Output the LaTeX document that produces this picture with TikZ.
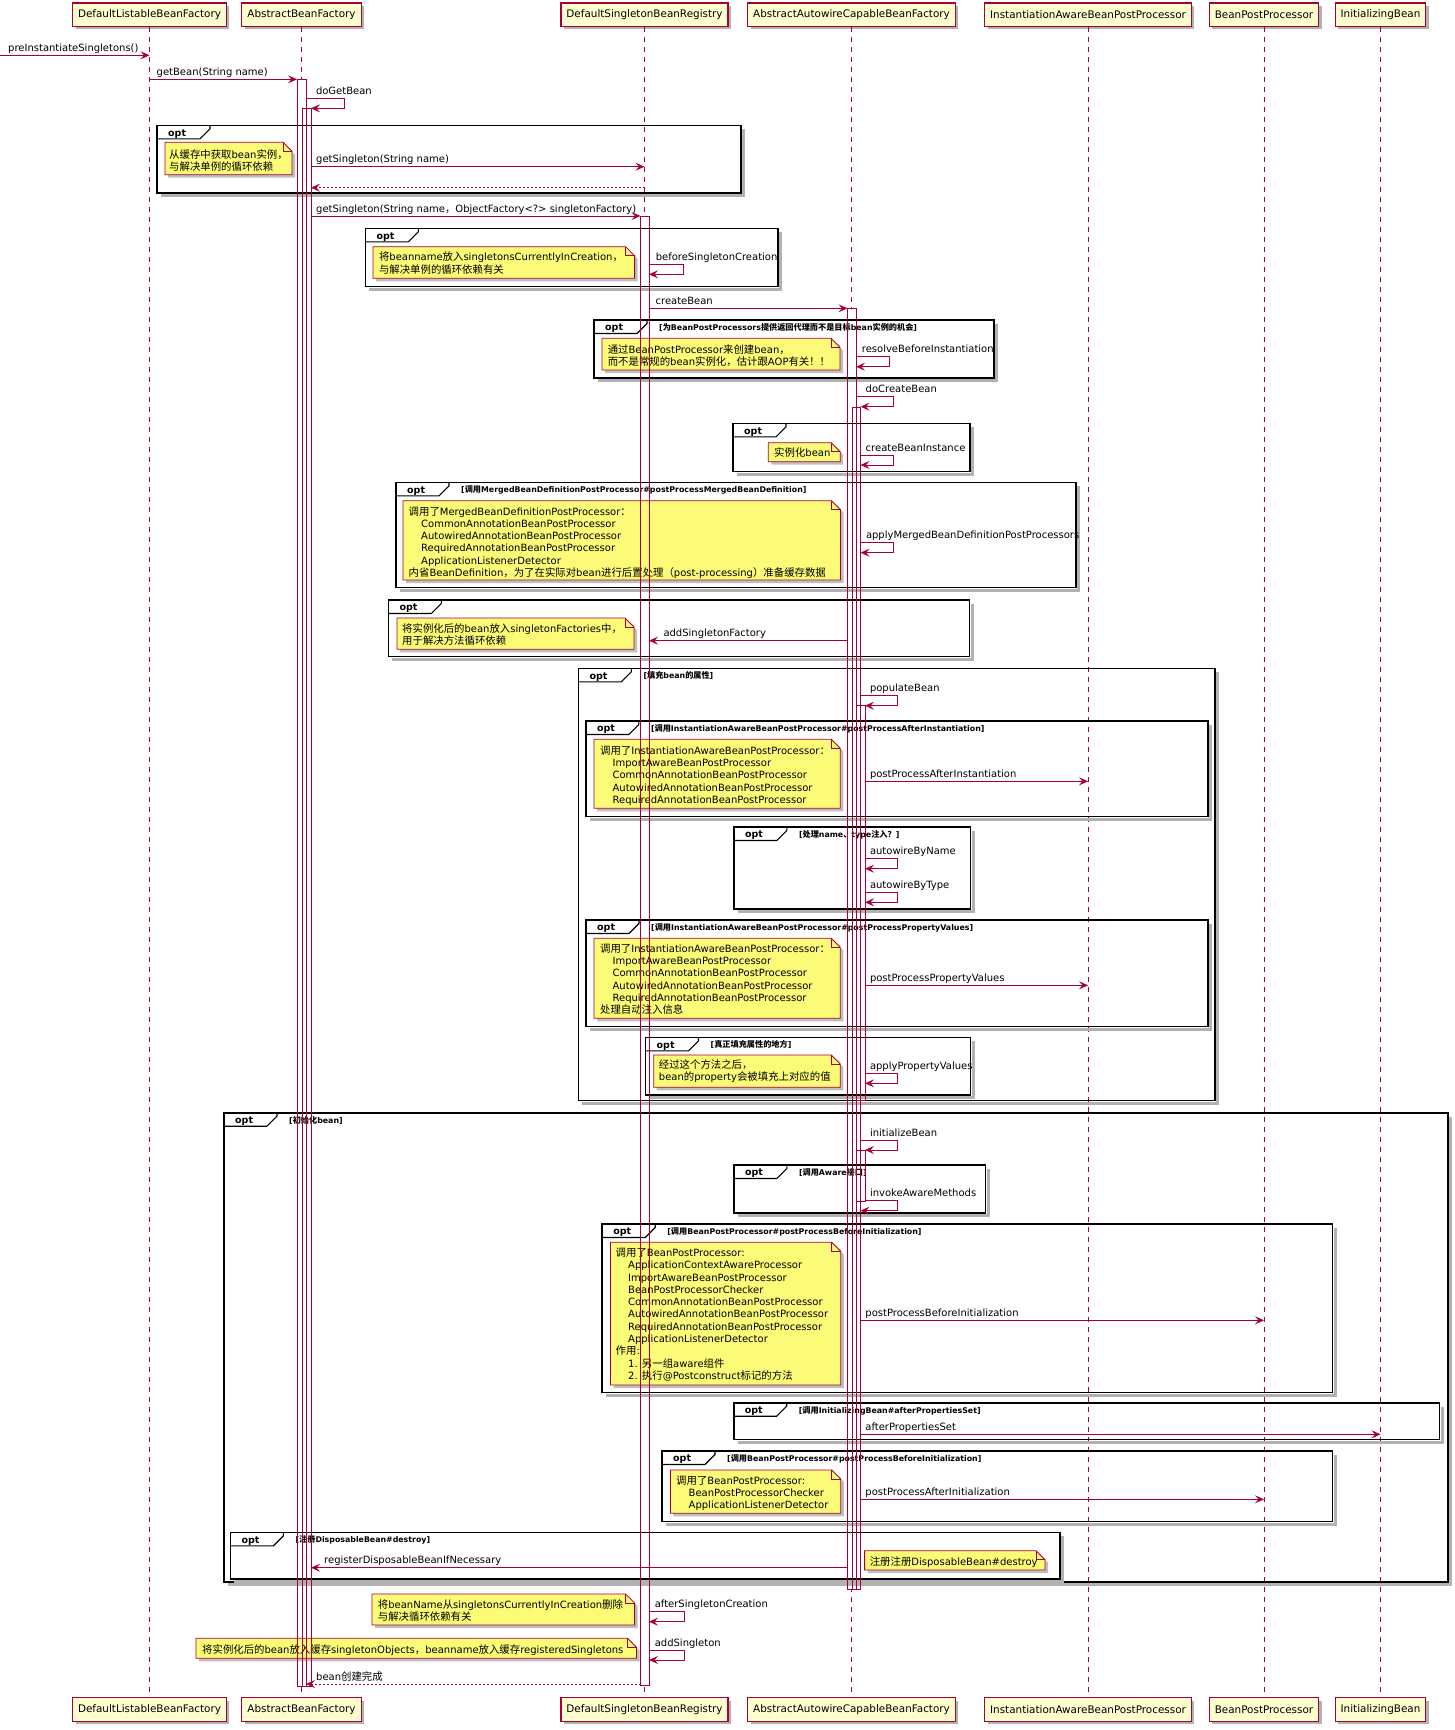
\documentclass[tikz,border=0pt]{standalone}
\usepackage{fontspec}
\setmainfont{DejaVu Sans}
\newfontfamily\cjk{Noto Sans CJK SC}[Scale=1.04]
\usetikzlibrary{arrows.meta,shadows}
\definecolor{pr}{HTML}{A80036}
\definecolor{pbg}{HTML}{FEFECE}
\definecolor{nbg}{HTML}{FBFB77}
\newcommand\zh[1]{{\cjk #1}}
\newcommand\ind{\hspace*{12.5pt}}
\newcommand\lns[1]{\begin{tabular}[t]{@{}l@{}}#1\end{tabular}}
\tikzset{
 part/.style={draw=pr, line width=1.1pt, fill=pbg, minimum height=23.5pt, inner xsep=5.5pt, inner ysep=0pt,
   font=\fontsize{10.4}{12.25}\selectfont, drop shadow={shadow xshift=3pt, shadow yshift=-3pt, fill=black, opacity=0.3}},
 life/.style={draw=pr, line width=0.8pt, dash pattern=on 5pt off 5pt},
 actl/.style={draw=pr, line width=0.8pt},
 msg/.style={draw=pr, line width=0.9pt, -{Stealth[length=9pt,width=8pt,inset=3.5pt]}},
 ret/.style={msg, dash pattern=on 2pt off 2pt},
 lbl/.style={anchor=base west, inner sep=0pt, font=\fontsize{10}{12.25}\selectfont},
 frameline/.style={draw=black, line width=1.6pt},
 tabline/.style={draw=black, line width=1.1pt},
 fshadow/.style={draw=black!30, line width=3pt},
 optlbl/.style={anchor=base west, inner sep=0pt, font=\bfseries\fontsize{9.5}{11}\selectfont},
 guard/.style={anchor=base west, inner sep=0pt, font=\bfseries\fontsize{7.85}{9}\selectfont},
 notebody/.style={draw=pr, line width=0.8pt, fill=nbg},
 noteline/.style={draw=pr, line width=0.8pt},
 nshadow/.style={fill=black!25},
 ntext/.style={anchor=base west, inner sep=0pt, font=\fontsize{10}{12.25}\selectfont},
}
% name, x1, x2, y, labelx, label, style
\newcommand\hmsg[7]{%
 \coordinate (#1-s) at (#2,#4);
 \coordinate (#1-e) at (#3,#4);
 \draw[#7] (#1-s) -- (#1-e);
 \node[lbl] (#1-l) at (#5,#4-4) {#6};
}
% name, xstart, y, xout, xback, labelx, label
\newcommand\selfm[7]{%
 \coordinate (#1-a) at (#2,#3);
 \coordinate (#1-b) at (#4,#3);
 \coordinate (#1-c) at (#4,#3+10);
 \coordinate (#1-d) at (#5,#3+10);
 \draw[msg] (#1-a) -- (#1-b) -- (#1-c) -- (#1-d);
 \node[lbl] (#1-l) at (#6,#3-4) {#7};
}
% name x1 y1 x2 y2 guard
\newcommand\optframe[6]{%
 \draw[fshadow] (#2+4,#5+2.5) -- (#4+2.5,#5+2.5) -- (#4+2.5,#3+4);
 \draw[frameline] (#2,#3) rectangle (#4,#5);
 \draw[tabline] (#2,#3+13.5) -- (#2+43,#3+13.5) -- (#2+53,#3+3.5) -- (#2+53,#3);
 \node[optlbl] (#1-o) at (#2+11,#3+10.8) {opt};
 \node[guard] (#1-g) at (#2+65,#3+10.3) {#6};
}
% name x1 y1 x2 y2 textx baseline text
\newcommand\notebx[8]{%
 \fill[nshadow] (#2+3,#3+3) -- (#4-6,#3+3) -- (#4+3,#3+12) -- (#4+3,#5+3) -- (#2+3,#5+3) -- cycle;
 \draw[notebody] (#2,#3) -- (#4-9,#3) -- (#4,#3+9) -- (#4,#5) -- (#2,#5) -- cycle;
 \draw[noteline] (#4-9,#3) -- (#4-9,#3+9) -- (#4,#3+9);
 \node[ntext] (#1) at (#6,#7) {\lns{#8}};
}
\begin{document}
\begin{tikzpicture}[x=1pt,y=-1pt]
\fill[white] (0,0) rectangle (1455,1730);
\useasboundingbox (0,0) rectangle (1455,1730);

% participants
\node[part] (p1) at (149.5,14.7) {DefaultListableBeanFactory};
\node[part] (p2) at (301.5,14.7) {AbstractBeanFactory};
\node[part] (p3) at (644.5,14.7) {DefaultSingletonBeanRegistry};
\node[part] (p4) at (851.5,14.7) {AbstractAutowireCapableBeanFactory};
\node[part] (p5) at (1088,14.7) {InstantiationAwareBeanPostProcessor};
\node[part] (p6) at (1264,14.7) {BeanPostProcessor};
\node[part] (p7) at (1380.5,14.7) {InitializingBean};
\node[part] (q1) at (149.5,1709.3) {DefaultListableBeanFactory};
\node[part] (q2) at (301.5,1709.3) {AbstractBeanFactory};
\node[part] (q3) at (644.5,1709.3) {DefaultSingletonBeanRegistry};
\node[part] (q4) at (851.5,1709.3) {AbstractAutowireCapableBeanFactory};
\node[part] (q5) at (1088,1709.3) {InstantiationAwareBeanPostProcessor};
\node[part] (q6) at (1264,1709.3) {BeanPostProcessor};
\node[part] (q7) at (1380.5,1709.3) {InitializingBean};
\foreach \i in {1,...,7} {\draw[life] (p\i.south) -- (q\i.north);}

% activation fills
\foreach \a/\b/\c/\d in {297/79.3/306/1686, 302/108.3/311/1686, 640.5/216/649/1685, 847.5/308.3/856/1589, 852/407/860.5/1589, 856/705.7/865/1100.7, 856/1150/865/1201.7}
 {\fill[white] (\a,\b) rectangle (\c,\d);}

% frames
\optframe{f1}{157}{125.3}{741}{193}{}
\optframe{f2}{365.4}{228.3}{778}{286.5}{}
\optframe{f3}{594}{320}{994}{378}{[\zh{为}BeanPostProcessors\zh{提供返回代理而不是目标}bean\zh{实例的机会}]}
\optframe{f4}{733}{423.3}{970}{471.5}{}
\optframe{f5}{396}{482.3}{1076}{587.5}{[\zh{调用}MergedBeanDefinitionPostProcessor\#postProcessMergedBeanDefinition]}
\optframe{f6}{388.3}{600}{969.5}{656.5}{}
\optframe{f7}{578.3}{668.3}{1215}{1100.5}{[\zh{填充}bean\zh{的属性}]}
\optframe{f8}{585.8}{721}{1208}{816.5}{[\zh{调用}InstantiationAwareBeanPostProcessor\#postProcessAfterInstantiation]}
\optframe{f9}{733.8}{827}{970.5}{909}{[\zh{处理}name\zh{、}type\zh{注入？}]}
\optframe{f10}{586}{920}{1208}{1026.5}{[\zh{调用}InstantiationAwareBeanPostProcessor\#postProcessPropertyValues]}
\optframe{f11}{645.5}{1037.3}{970.5}{1095}{[\zh{真正填充属性的地方}]}
\optframe{f12}{224}{1112.7}{1448}{1582}{[\zh{初始化}bean]}
\optframe{f13}{733.8}{1165}{985.5}{1213}{[\zh{调用}Aware\zh{接口}]}
\optframe{f14}{602.2}{1224}{1332.5}{1392.5}{[\zh{调用}BeanPostProcessor\#postProcessBeforeInitialization]}
\optframe{f15}{733.7}{1402.7}{1439.5}{1439.5}{[\zh{调用}InitializingBean\#afterPropertiesSet]}
\optframe{f16}{662}{1451}{1332.5}{1521.5}{[\zh{调用}BeanPostProcessor\#postProcessBeforeInitialization]}
\optframe{f17}{230.4}{1532.3}{1060}{1579}{[\zh{注册}DisposableBean\#destroy]}

% notes
\notebx{n1}{165}{142.3}{292}{174.7}{169}{158}{\zh{从缓存中获取}bean\zh{实例，}\\\zh{与解决单例的循环依赖}}
\notebx{n2}{373}{246.7}{634.6}{278.3}{378.8}{260.7}{\zh{将}beanname\zh{放入}singletonsCurrentlyInCreation\zh{，}\\\zh{与解决单例的循环依赖有关}}
\notebx{n3}{602}{338.3}{840}{370}{607.6}{353}{\zh{通过}BeanPostProcessor\zh{来创建}bean\zh{，}\\\zh{而不是常规的}bean\zh{实例化，估计跟}AOP\zh{有关！！}}
\notebx{n4}{768.3}{442.7}{840.2}{461.7}{774}{456.7}{\zh{实例化}bean}
\notebx{n5}{403}{500.7}{840.5}{580}{408.5}{515}{\zh{调用了}MergedBeanDefinitionPostProcessor\zh{：}\\\ind CommonAnnotationBeanPostProcessor\\\ind AutowiredAnnotationBeanPostProcessor\\\ind RequiredAnnotationBeanPostProcessor\\\ind ApplicationListenerDetector\\\zh{内省}BeanDefinition\zh{，为了在实际对}bean\zh{进行后置处理（}post-processing\zh{）准备缓存数据}}
\notebx{n6}{397}{618}{634}{649.3}{402}{632.3}{\zh{将实例化后的}bean\zh{放入}singletonFactories\zh{中，}\\\zh{用于解决方法循环依赖}}
\notebx{n7}{594}{739.3}{840.3}{808.3}{599.9}{754.3}{\zh{调用了}InstantiationAwareBeanPostProcessor\zh{：}\\\ind ImportAwareBeanPostProcessor\\\ind CommonAnnotationBeanPostProcessor\\\ind AutowiredAnnotationBeanPostProcessor\\\ind RequiredAnnotationBeanPostProcessor}
\notebx{n8}{594}{938.3}{840.3}{1018.3}{599.9}{952.3}{\zh{调用了}InstantiationAwareBeanPostProcessor\zh{：}\\\ind ImportAwareBeanPostProcessor\\\ind CommonAnnotationBeanPostProcessor\\\ind AutowiredAnnotationBeanPostProcessor\\\ind RequiredAnnotationBeanPostProcessor\\\zh{处理自动注入信息}}
\notebx{n9}{653.7}{1055}{840.3}{1087.3}{658.7}{1068.3}{\zh{经过这个方法之后，}\\bean\zh{的}property\zh{会被填充上对应的值}}
\notebx{n10}{610.5}{1242.3}{840.8}{1385}{615.5}{1256.7}{\zh{调用了}BeanPostProcessor:\\\ind ApplicationContextAwareProcessor\\\ind ImportAwareBeanPostProcessor\\\ind BeanPostProcessorChecker\\\ind CommonAnnotationBeanPostProcessor\\\ind AutowiredAnnotationBeanPostProcessor\\\ind RequiredAnnotationBeanPostProcessor\\\ind ApplicationListenerDetector\\\zh{作用}:\\\ind 1. \zh{另一组}aware\zh{组件}\\\ind 2. \zh{执行}@Postconstruct\zh{标记的方法}}
\notebx{n11}{670.4}{1470}{840.8}{1513.3}{676}{1484}{\zh{调用了}BeanPostProcessor:\\\ind BeanPostProcessorChecker\\\ind ApplicationListenerDetector}
\notebx{n12}{864.6}{1550.7}{1045}{1570}{869.6}{1565}{\zh{注册注册}DisposableBean\#destroy}
\notebx{n13}{372}{1594}{634.6}{1625}{377.7}{1608.3}{\zh{将}beanName\zh{从}singletonsCurrentlyInCreation\zh{删除}\\\zh{与解决循环依赖有关}}
\notebx{n14}{196}{1638.3}{636.5}{1658.3}{202}{1653}{\zh{将实例化后的}bean\zh{放入缓存}singletonObjects\zh{，}beanname\zh{放入缓存}registeredSingletons}

% activation outlines
\foreach \a/\b/\c/\d in {297/79.3/306/1686, 302/108.3/311/1686, 640.5/216/649/1685, 847.5/308.3/856/1589, 852/407/860.5/1589, 856/705.7/865/1100.7, 856/1150/865/1201.7}
 {\draw[actl] (\a,\b) rectangle (\c,\d);}

% messages
\hmsg{m1}{0}{149.5}{55.3}{8}{preInstantiateSingletons()}{msg}
\hmsg{m2}{149.5}{297}{79.3}{156.5}{getBean(String name)}{msg}
\selfm{m3}{306}{98.3}{344.5}{311}{315.8}{doGetBean}
\hmsg{m4}{311}{644.5}{166.7}{316}{getSingleton(String name)}{msg}
\hmsg{m5}{644.5}{311}{187.7}{316}{}{ret}
\hmsg{m6}{311}{640.5}{216}{316}{getSingleton(String name\zh{，}ObjectFactory<?> singletonFactory)}{msg}
\selfm{m7}{649}{264.3}{683.8}{649}{655.6}{beforeSingletonCreation}
\hmsg{m8}{649}{847.5}{308.3}{655.4}{createBean}{msg}
\selfm{m9}{856}{356.7}{889}{856}{861.7}{resolveBeforeInstantiation}
\selfm{m10}{856}{396.7}{893.8}{860.5}{865.5}{doCreateBean}
\selfm{m11}{860.5}{455}{893.8}{860.5}{865.5}{createBeanInstance}
\selfm{m12}{860.5}{542.7}{893}{860.5}{865.8}{applyMergedBeanDefinitionPostProcessors}
\hmsg{m13}{847.5}{649}{640.7}{663.3}{addSingletonFactory}{msg}
\selfm{m14}{860.5}{695.7}{897.5}{865}{869.8}{populateBean}
\hmsg{m15}{865}{1088}{781.3}{869.8}{postProcessAfterInstantiation}{msg}
\selfm{m16}{865}{858.7}{897.5}{865}{869.8}{autowireByName}
\selfm{m17}{865}{892.3}{897.5}{865}{869.8}{autowireByType}
\hmsg{m18}{865}{1088}{985.3}{869.8}{postProcessPropertyValues}{msg}
\selfm{m19}{865}{1073.3}{897.5}{865}{869.8}{applyPropertyValues}
\selfm{m20}{860.5}{1140}{897.5}{865}{869.8}{initializeBean}
\selfm{m21}{865}{1200.7}{897.5}{860.5}{869.8}{invokeAwareMethods}
\hmsg{m22}{860.5}{1264}{1320.3}{865.2}{postProcessBeforeInitialization}{msg}
\hmsg{m23}{860.5}{1380.5}{1434.3}{865.2}{afterPropertiesSet}{msg}
\hmsg{m24}{860.5}{1264}{1499.3}{865.2}{postProcessAfterInitialization}{msg}
\hmsg{m25}{847.5}{311}{1567.7}{324}{registerDisposableBeanIfNecessary}{msg}
\selfm{m26}{649}{1611.7}{684.2}{649}{654.6}{afterSingletonCreation}
\selfm{m27}{649}{1650}{684}{649}{654.6}{addSingleton}
\hmsg{m28}{640.5}{306}{1684}{316}{bean\zh{创建完成}}{ret}
\end{tikzpicture}
\end{document}
